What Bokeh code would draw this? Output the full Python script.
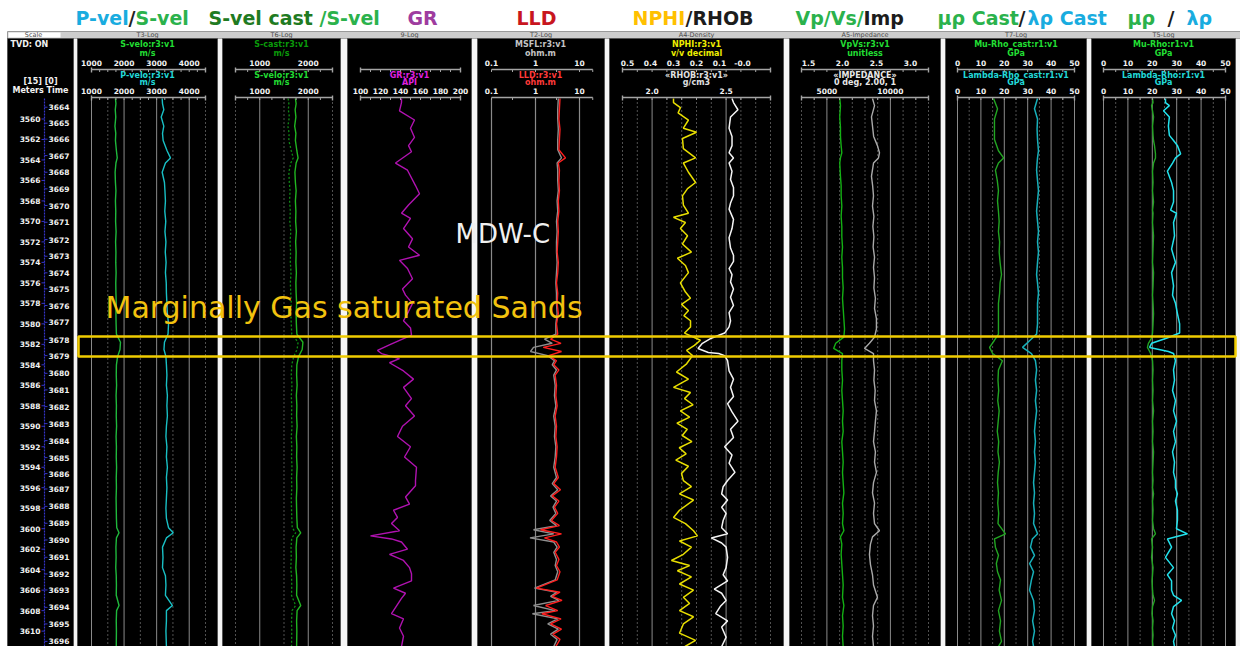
from bokeh.plotting import figure
from bokeh.models import Range1d, LogScale, CoordinateMapping
from bokeh.core.properties import value
from bokeh.embed import file_html
from bokeh.resources import INLINE

# ---------------------------------------------------------------- data
DEPTH_TOP, DEPTH_BOT = 3558.0, 3611.5          # measured depth window (m)

meter_marks = list(range(3560, 3612, 2))
time_marks = list(range(3664, 3697))
time_mark_depth = [3558.85, 3560.41, 3561.97, 3563.57, 3565.20, 3566.82, 3568.45,
                   3570.08, 3571.77, 3573.40, 3575.02, 3576.58, 3578.21, 3579.85,
                   3581.54, 3583.10, 3584.83, 3586.45, 3588.08, 3589.74, 3591.40,
                   3593.06, 3594.62, 3596.12, 3597.82, 3599.47, 3601.10, 3602.79,
                   3604.42, 3605.98, 3607.68, 3609.30, 3611.00]

# velocities (m/s)
vel_depth = [3558.0, 3558.5, 3559.1, 3559.8, 3560.7, 3561.4, 3562.1, 3563.1, 3563.8, 3564.3,
             3565.2, 3566.2, 3567, 3568, 3569, 3570, 3571, 3572, 3573, 3574, 3575, 3576,
             3577, 3578, 3579, 3580, 3581, 3581.8, 3582.5, 3583.2, 3584, 3585, 3586, 3587,
             3588, 3589, 3590, 3591, 3592, 3593, 3594, 3595, 3596, 3597, 3598, 3599,
             3599.9, 3600.4, 3600.9, 3601.8, 3602.8, 3603.8, 3604.6, 3605.5, 3606.5,
             3607.5, 3608, 3609, 3610, 3611.5]
p_vel = [3170, 3180, 3220, 3140, 3220, 3180, 3200, 3320, 3425, 3270, 3170, 3240,
         3255, 3270, 3250, 3280, 3255, 3285, 3265, 3290, 3270, 3295, 3300, 3315, 3330, 3365, 3350,
         3240, 3225, 3285,
         3300, 3315, 3300, 3330, 3315, 3330, 3300, 3285, 3315, 3300, 3330, 3300, 3315, 3300, 3285, 3300,
         3365, 3510, 3300,
         3180, 3195, 3180, 3270, 3285, 3270, 3485,
         3300, 3300, 3285, 3300]
s_vel = [1735, 1750, 1730, 1745, 1720, 1745, 1735, 1765, 1790, 1750, 1725, 1735,
         1750, 1735, 1745, 1740, 1755, 1740, 1750, 1745, 1755, 1745, 1750, 1760, 1750, 1755, 1765,
         1890, 1875, 1800,
         1765, 1760, 1770, 1755, 1765, 1760, 1770, 1755, 1765, 1760, 1770, 1760, 1765, 1755, 1760, 1765,
         1775, 1845, 1765,
         1750, 1755, 1745, 1760, 1765, 1760, 1845,
         1770, 1760, 1765, 1760]
s_cast = [1585, 1600, 1590, 1610, 1580, 1605, 1600, 1650, 1690, 1640, 1600, 1610,
          1625, 1615, 1630, 1620, 1640, 1625, 1635, 1630, 1645, 1630, 1640, 1650, 1640, 1650, 1660,
          1790, 1770, 1700,
          1660, 1650, 1665, 1650, 1660, 1655, 1665, 1650, 1660, 1655, 1665, 1655, 1660, 1650, 1655, 1660,
          1670, 1740, 1660,
          1645, 1650, 1640, 1655, 1660, 1655, 1740,
          1665, 1655, 1660, 1655]

# gamma ray (API)
gr_depth = [3558.0, 3558.4, 3559.2, 3560.1, 3560.9, 3561.8, 3562.6, 3563.2, 3564.3, 3565.0,
            3566.5, 3567.3, 3568.4, 3569.2, 3569.7, 3570.7, 3571.7, 3572.5, 3573.3, 3573.8,
            3574.6, 3575.6, 3576.6, 3577.2, 3578.0, 3578.8, 3579.7, 3580.4, 3581.1, 3582.0,
            3582.6, 3582.9, 3583.4, 3583.8, 3584.6, 3585.4, 3586.2, 3587.3, 3588.0, 3589.0,
            3590.0, 3591.0, 3592.0, 3593.0, 3594.0, 3595.3, 3595.8, 3596.9, 3597.6, 3598.2,
            3598.9, 3599.5, 3600.2, 3600.7, 3601.0, 3601.3, 3602.0, 3602.5, 3603.1, 3603.8,
            3604.4, 3605.1, 3605.8, 3606.3, 3606.8, 3608.3, 3608.8, 3609.7, 3610.5, 3611.5]
gr_api = [141, 141, 139, 154, 150, 154, 148, 151, 135, 147,
          155, 159, 148, 141, 150, 143, 152, 148, 159, 139,
          147, 152, 142, 145, 152, 148, 143, 150, 151, 130,
          117, 121, 139, 129, 143, 153, 143, 151, 145, 154,
          142, 137, 150, 144, 156, 155, 155, 145, 149, 133,
          137, 131, 139, 110, 131, 141, 147, 129, 143, 149,
          151, 151, 133, 145, 141, 131, 143, 139, 143, 141]

# resistivity (ohm.m)
res_depth = [3558, 3559, 3560, 3561, 3562, 3563, 3563.8, 3564.3, 3565, 3566, 3567, 3568, 3569,
             3570, 3571, 3572, 3573, 3574, 3575, 3576, 3577, 3578, 3579, 3580, 3581,
             3581.5, 3581.9, 3582.3, 3582.7, 3583.1, 3583.6, 3584, 3584.5, 3585,
             3586, 3587, 3588, 3589, 3590, 3591, 3592, 3593, 3594, 3595,
             3595.6, 3596.2, 3596.8, 3597.3, 3597.9, 3598.5, 3599.2, 3599.7,
             3600.1, 3600.5, 3600.9, 3601.3, 3601.8, 3602.3, 3603, 3603.6, 3604.2, 3605,
             3605.8, 3606.2, 3606.6, 3607, 3607.5, 3608, 3608.3, 3608.8, 3609.3, 3609.8,
             3610.3, 3610.8, 3611.5]
lld = [3.6, 3.5, 3.4, 3.6, 3.5, 3.4, 4.8, 3.3, 3.5, 3.4, 3.5, 3.3, 3.4, 3.2, 3.3, 3.2, 3.1,
       3.3, 3.2, 3.0, 3.2, 3.1, 3.3, 3.0, 3.2,
       2.2, 3.8, 1.5, 3.9, 2.0, 3.0, 2.6, 3.4, 2.8,
       3.0, 2.9, 3.1, 2.8, 3.0, 2.9, 3.1, 3.0, 2.8, 3.3,
       2.6, 3.7, 2.4, 3.4, 2.7, 3.2, 2.3, 3.5,
       1.3, 3.9, 1.6, 3.0, 3.5, 2.8, 3.4, 3.0, 3.6, 3.1,
       1.05, 3.6, 2.4, 4.0, 1.7, 3.2, 1.4, 3.8, 2.2, 3.9, 2.5, 3.6, 2.9]
msfl = [3.3, 3.2, 3.2, 3.3, 3.2, 3.2, 3.9, 3.1, 3.2, 3.2, 3.3, 3.1, 3.2, 3.0, 3.1, 3.0, 3.0,
        3.1, 3.0, 2.9, 3.0, 3.0, 3.1, 2.9, 2.9,
        1.6, 2.4, 0.9, 0.77, 1.9, 2.7, 2.4, 3.0, 2.6,
        2.8, 2.7, 2.9, 2.6, 2.8, 2.7, 2.9, 2.8, 2.6, 3.0,
        2.4, 3.2, 2.2, 3.0, 2.5, 2.9, 2.1, 3.0,
        0.9, 2.6, 0.75, 2.6, 3.1, 2.6, 3.0, 2.8, 3.2, 2.8,
        0.95, 3.1, 2.2, 3.4, 0.9, 2.8, 0.85, 3.2, 1.9, 3.3, 2.2, 3.1, 2.6]

# neutron porosity (v/v) and bulk density (g/cm3)
nphi_depth = [3558.0, 3558.4, 3558.9, 3559.4, 3560.1, 3560.9, 3561.3, 3561.9, 3562.9, 3563.8,
              3564.3, 3565.2, 3566.2, 3566.8, 3567.5, 3568.4, 3569.2, 3569.6, 3570.1, 3570.7,
              3571.4, 3572.2, 3573.0, 3573.6, 3574.3, 3575.0, 3576.0, 3576.9, 3577.5, 3578.1,
              3578.7, 3579.2, 3579.7, 3580.3, 3580.9, 3581.6, 3582.1, 3582.6, 3583.1, 3583.9,
              3584.7, 3585.4, 3586.2, 3586.7, 3587.3, 3587.9, 3588.5, 3589.1, 3589.7, 3590.3,
              3590.9, 3591.5, 3592.1, 3592.7, 3593.3, 3593.9, 3594.6, 3595.3, 3595.9, 3596.6,
              3597.2, 3598.2, 3598.9, 3599.5, 3600.2, 3600.7, 3601.2, 3601.8, 3602.5, 3603.1,
              3603.6, 3604.1, 3604.7, 3605.4, 3606.0, 3606.7, 3607.3, 3608.0, 3608.6, 3609.3,
              3610.2, 3610.9, 3611.5]
nphi = [0.30, 0.30, 0.27, 0.28, 0.235, 0.257, 0.200, 0.261, 0.257, 0.204,
        0.257, 0.235, 0.204, 0.239, 0.261, 0.257, 0.235, 0.300, 0.248, 0.270,
        0.239, 0.261, 0.222, 0.283, 0.248, 0.235, 0.270, 0.248, 0.226, 0.265,
        0.235, 0.255, 0.226, 0.226, 0.252, 0.183, 0.209, 0.243, 0.217, 0.243,
        0.287, 0.235, 0.300, 0.226, 0.252, 0.215, 0.270, 0.230, 0.285, 0.240,
        0.262, 0.220, 0.275, 0.245, 0.290, 0.235, 0.265, 0.257, 0.222, 0.274,
        0.213, 0.274, 0.300, 0.248, 0.213, 0.196, 0.274, 0.222, 0.257, 0.309,
        0.230, 0.283, 0.222, 0.274, 0.213, 0.257, 0.230, 0.274, 0.213, 0.257,
        0.274, 0.204, 0.250]
rhob_depth = [3558.0, 3558.4, 3559.1, 3559.8, 3560.9, 3561.7, 3562.6, 3563.3, 3563.8, 3564.3,
              3565.1, 3565.9, 3566.7, 3567.5, 3568.2, 3568.8, 3569.8, 3570.7, 3571.6, 3572.6,
              3573.3, 3573.9, 3574.6, 3575.2, 3575.9, 3576.6, 3577.4, 3578.2, 3578.9, 3579.7,
              3580.3, 3580.9, 3581.4, 3581.9, 3582.4, 3582.8, 3582.9, 3583.1, 3583.6, 3584.6,
              3585.4, 3586.2, 3587.1, 3587.8, 3588.6, 3589.5, 3590.3, 3591.1, 3592.0, 3592.8,
              3593.6, 3594.5, 3595.3, 3595.9, 3596.6, 3597.2, 3597.9, 3598.5, 3599.2, 3599.9,
              3600.5, 3600.9, 3601.4, 3601.8, 3602.8, 3603.8, 3604.5, 3605.1, 3605.9, 3606.3,
              3607.0, 3607.6, 3608.3, 3609.0, 3609.6, 3610.6, 3611.5]
rhob = [2.54, 2.55, 2.58, 2.53, 2.52, 2.54, 2.54, 2.52, 2.55, 2.52,
        2.54, 2.53, 2.55, 2.55, 2.53, 2.52, 2.55, 2.54, 2.52, 2.53,
        2.55, 2.55, 2.52, 2.54, 2.53, 2.55, 2.53, 2.55, 2.52, 2.53,
        2.52, 2.49, 2.40, 2.34, 2.31, 2.38, 2.45, 2.49, 2.51, 2.52,
        2.55, 2.53, 2.55, 2.51, 2.54, 2.58, 2.53, 2.55, 2.49, 2.54,
        2.52, 2.56, 2.51, 2.48, 2.47, 2.51, 2.47, 2.50, 2.48, 2.47,
        2.51, 2.40, 2.47, 2.50, 2.51, 2.50, 2.48, 2.51, 2.42, 2.47,
        2.50, 2.46, 2.43, 2.51, 2.47, 2.50, 2.47]

# Vp/Vs (unitless) and acoustic impedance
a5_depth = [3558, 3558.7, 3559.8, 3560.8, 3561.7, 3562.6, 3563.3, 3563.8, 3564.3, 3565.6,
            3566.5, 3567.5, 3568.5, 3569.5, 3570.5, 3571.5, 3572.5, 3573.5, 3574.5, 3575.5,
            3576.5, 3577.5, 3578.5, 3579.5, 3580.5,
            3581.3, 3581.9, 3582.4, 3582.9, 3583.6,
            3584.5, 3585.5, 3586.5, 3587.5, 3588.5, 3589.5, 3590.5, 3591.5, 3592.5, 3593.5,
            3594.5, 3595.5, 3596.5, 3597.5, 3598.5, 3599.5,
            3600.2, 3600.8, 3601.5, 3602.5, 3603.5, 3604.5, 3605.5, 3606.7,
            3607.5, 3608.5, 3609.5, 3610.5, 3611.5]
vpvs = [1.96, 1.97, 1.96, 1.97, 1.97, 1.98, 1.99, 1.97, 1.96, 1.97,
        1.98, 1.98, 1.99, 1.98, 1.99, 1.99, 2.00, 1.99, 2.00, 2.00,
        2.01, 2.00, 2.01, 2.02, 2.03,
        2.02, 1.90, 1.87, 2.00, 1.99,
        1.99, 2.00, 1.99, 2.00, 2.01, 2.00, 2.01, 1.99, 2.00, 2.01,
        2.00, 2.01, 2.02, 2.00, 2.01, 2.00,
        2.02, 1.97, 1.99, 1.98, 1.99, 2.00, 2.01, 2.00,
        2.02, 2.00, 2.01, 2.00, 2.01]
impedance = [8590, 8750, 8510, 8600, 8680, 8980, 9140, 9060, 8670, 8510,
             8600, 8670, 8590, 8700, 8620, 8700, 8640, 8750, 8670, 8750,
             8700, 8820, 8750, 8900, 8900,
             8750, 8350, 7960, 8670, 8670,
             8750, 8700, 8800, 8750, 8900, 8820, 8750, 8670, 8820, 8750,
             8900, 8670, 8590, 8750, 8670, 8750,
             9140, 8590, 8430, 8350, 8430, 8590, 8670, 8980,
             8670, 8590, 8670, 8590, 8670]

# Lame products from the cast shear log (GPa)
t7_depth = [3558, 3559, 3560, 3561, 3562, 3563.1, 3563.8, 3564.3,
            3565, 3566, 3567, 3568, 3569, 3570, 3571, 3572, 3573, 3574, 3575.2,
            3576, 3577, 3578, 3579, 3580, 3581,
            3581.6, 3582.3, 3582.9, 3583.6,
            3584.5, 3585.5, 3586.5, 3587.5, 3588.5, 3589.5, 3590.5, 3591.5, 3592.5, 3593.5,
            3594.5, 3595.5, 3596.5, 3597.5, 3598.5, 3599.5,
            3600.5, 3601.0, 3601.8, 3602.6, 3603.4, 3604.2, 3605.0,
            3606, 3607, 3608, 3609, 3610, 3611, 3611.5]
mu_rho_cast = [15.4, 17.1, 15.8, 15.8, 15.8, 17.5, 19.7, 17.5,
               16.2, 17.0, 17.5, 17.1, 17.5, 17.8, 17.5, 18.0, 17.8, 18.2, 18.8,
               18.2, 18.0, 17.5, 17.5, 17.5, 17.5,
               15.8, 13.7, 15.0, 19.2,
               17.5, 17.3, 17.6, 17.2, 17.8, 17.4, 17.0, 17.6, 17.3, 17.9,
               17.4, 17.1, 17.5, 17.2, 17.6, 17.3,
               20.5, 15.8, 16.2, 17.5, 16.6, 17.1, 18.4,
               17.8, 18.8, 17.5, 18.4, 17.9, 18.8, 17.5]
lambda_rho_cast = [34.2, 32.9, 34.2, 34.0, 34.2, 34.6, 34.2, 34.0,
                   33.8, 34.2, 34.6, 34.2, 33.8, 34.2, 34.6, 34.2, 34.6, 34.2, 33.8,
                   34.2, 34.6, 34.2, 34.2, 34.2, 33.8,
                   31.0, 27.8, 31.6, 33.3,
                   33.8, 33.3, 33.8, 33.3, 33.8, 33.3, 32.9, 33.3, 32.9, 33.3,
                   32.9, 32.5, 32.9, 32.5, 32.9, 32.5,
                   34.2, 32.0, 31.2, 32.9, 30.8, 32.5, 31.6,
                   30.8, 32.5, 32.9, 32.1, 32.9, 32.1, 32.5]

# Lame products from the measured shear log (GPa)
t5_depth = [3558.0, 3558.4, 3558.7, 3559.2, 3559.8, 3560.7, 3561.6, 3562.1, 3562.6, 3563.4,
            3563.8, 3564.3, 3565.1, 3566.2, 3567.0, 3568.1, 3568.9, 3569.2, 3570.1, 3571.4,
            3572.7, 3574.0, 3575.0, 3576.3, 3577.2, 3578.0, 3579.0, 3580.0, 3580.9, 3581.4,
            3581.9, 3582.3, 3582.7, 3582.9, 3583.6, 3584.5, 3585.5, 3586.5, 3587.5, 3588.5,
            3589.5, 3590.5, 3591.5, 3592.5, 3593.5, 3594.5, 3595.3, 3596.0, 3596.6, 3597.3,
            3598.2, 3599.2, 3600.0, 3600.5, 3601.0, 3601.8, 3602.8, 3603.8, 3604.5, 3605.1,
            3606.0, 3606.5, 3607.0, 3607.6, 3608.3, 3609.0, 3609.7, 3610.4, 3611.0, 3611.5]
mu_rho = [20.1, 20.3, 19.7, 20.1, 20.5, 20.1, 20.3, 20.5, 20.9, 21.3,
          21.3, 20.5, 20.1, 20.3, 20.1, 20.5, 20.1, 20.3, 20.1, 20.5,
          20.3, 20.1, 20.5, 20.3, 20.1, 20.3, 20.5, 20.3, 20.1, 19.7,
          18.4, 18.0, 18.9, 19.3, 20.1, 20.3, 20.1, 20.3, 20.1, 20.5,
          20.1, 20.3, 20.1, 20.5, 20.3, 20.1, 20.3, 20.1, 20.5, 20.1,
          20.3, 20.1, 20.5, 21.3, 19.7, 20.1, 19.7, 20.3, 20.1, 19.9,
          20.1, 20.3, 20.9, 20.1, 19.9, 20.3, 20.1, 20.3, 20.1, 20.3]
lambda_rho = [25.4, 25.4, 27.0, 24.6, 27.0, 26.6, 27.0, 28.7, 30.3, 31.6,
              29.5, 28.3, 26.2, 27.9, 28.7, 28.7, 27.5, 29.9, 28.7, 29.1,
              27.9, 29.5, 27.9, 28.7, 28.3, 29.5, 30.3, 31.2, 31.2, 25.8,
              19.7, 18.9, 26.6, 28.7, 29.5, 28.7, 29.1, 28.3, 29.5, 28.7,
              29.9, 28.7, 29.5, 28.3, 29.1, 28.7, 29.5, 29.5, 30.3, 29.5,
              30.3, 30.3, 29.9, 34.4, 26.2, 27.9, 25.4, 28.7, 26.2, 27.9,
              27.9, 28.7, 32.0, 28.7, 27.9, 29.1, 28.3, 29.5, 28.7, 29.1]

# interpreted zone
zone_top, zone_base = 3581.24, 3583.2

# ---------------------------------------------------------------- canvas
W, H = 1240, 646
Y_STRIP0, Y_STRIP1 = 31, 38
Y_DATA0, Y_DATA1 = 98, 646
FONT = value("DejaVu Sans")

p = figure(width=W, height=H, x_range=Range1d(0, W), y_range=Range1d(H, 0),
           x_axis_type=None, y_axis_type=None, toolbar_location=None,
           output_backend="svg", min_border=0)
p.outline_line_color = None
p.background_fill_color = "white"
p.border_fill_color = "white"

DEPTH = Range1d(DEPTH_TOP, DEPTH_BOT)
DATA_PX = Range1d(Y_DATA0, Y_DATA1)
LOG_OK = "x_scale" in CoordinateMapping.properties()


def txt(target, x, y, s, color, size, align="center", style="bold", baseline="middle"):
    return target.text(x=x if isinstance(x, list) else [x],
                       y=y if isinstance(y, list) else [y],
                       text=s if isinstance(s, list) else [s],
                       text_color=color, text_font=FONT, text_font_size=f"{size}px",
                       text_font_style=style, text_align=align, text_baseline=baseline)


def axes_pair(src, px):
    """Sub-coordinate systems of one track: depth body and header strip."""
    xs, xt = Range1d(*src), Range1d(*px)
    body = p.subplot(x_source=xs, y_source=DEPTH, x_target=xt, y_target=DATA_PX)
    head = p.subplot(x_source=xs, y_source=p.y_range, x_target=xt, y_target=p.y_range)
    return body, head


# panels (pixel frame of each track)
panels = [("Scale", 7, 73), ("T3-Log", 77, 217), ("T6-Log", 222, 340), ("9-Log", 347, 471),
          ("T2-Log", 477, 604), ("A4-Density", 609, 783), ("A5-Impedance", 789, 940),
          ("T7-Log", 945, 1086), ("T5-Log", 1091, 1235)]

# title strip and separators
p.quad(left=[7], right=[1240], top=[Y_STRIP0], bottom=[Y_STRIP1],
       fill_color="#cdcdcd", line_color="#9a9a9a", line_width=1)
seps = [(73, 77), (217, 222), (340, 347), (471, 477), (604, 609),
        (783, 789), (940, 945), (1086, 1091), (1235, 1240)]
p.quad(left=[a for a, b in seps], right=[b for a, b in seps],
       top=[Y_STRIP1] * len(seps), bottom=[Y_DATA1] * len(seps),
       fill_color="#f5f5f5", line_color="#a9a9a9", line_width=1)
p.quad(left=[x0 for _, x0, _ in panels], right=[x1 for _, _, x1 in panels],
       top=[Y_STRIP1] * len(panels), bottom=[Y_DATA1] * len(panels),
       fill_color="black", line_color="#555555", line_width=1)
p.quad(left=[8], right=[60], top=[Y_STRIP0 + 1], bottom=[Y_STRIP1 - 1],
       fill_color="white", line_color=None)
for name, x0, x1 in panels:
    txt(p, (x0 + x1) / 2 if name != "Scale" else 33, 34.6, name, "#4a4a4a", 6.5, style="normal")

# ---------------------------------------------------------------- chart title row
title_parts = [("P-vel", 75, "#19acdf"), ("/", 128, "#222222"), ("S-vel", 135, "#2bb24c"),
               ("S-vel cast", 208, "#1f7b22"), ("/S-vel", 319, "#2bb24c"),
               ("GR", 407, "#9e3c9f"), ("LLD", 516, "#c8161e"),
               ("NPHI", 632, "#ffc000"), ("/RHOB", 685, "#1c1c1c"),
               ("Vp/Vs/", 795, "#2bb24c"), ("Imp", 863, "#1c1c1c"),
               ("\u03bc\u03c1 Cast", 937, "#2bb24c"), ("/", 1018, "#1c1c1c"),
               ("\u03bb\u03c1 Cast", 1027, "#19acdf"),
               ("\u03bc\u03c1", 1127, "#2bb24c"), ("/", 1167, "#1c1c1c"),
               ("\u03bb\u03c1", 1186, "#19acdf")]
for s, x, c in title_parts:
    txt(p, x, 17, s, c, 19, align="left")

# ---------------------------------------------------------------- header rows
Y_N1, Y_U1, Y_L1, Y_B1 = 44, 53, 62, 69
Y_N2, Y_U2, Y_L2, Y_B2 = 75, 82, 90.5, 97
BAR = "#a4a4a4"
WHITE = "#f2f2f2"


def header_text(cx, name1, unit1, c1, name2, unit2, c2):
    if name1:
        txt(p, cx, Y_N1, name1, c1, 8)
        txt(p, cx, Y_U1, unit1, c1, 8)
    txt(p, cx, Y_N2, name2, c2, 8)
    txt(p, cx, Y_U2, unit2, c2, 8)


def scale_bar(head, lo, hi, ticks, y):
    head.segment(x0=[lo], x1=[hi], y0=[y], y1=[y], line_color=BAR, line_width=1.6)
    head.segment(x0=ticks, x1=ticks, y0=[y] * len(ticks), y1=[y + 2.5] * len(ticks),
                 line_color=BAR, line_width=1)
    head.segment(x0=[lo, hi], x1=[lo, hi], y0=[y - 2, y - 2], y1=[y + 3, y + 3],
                 line_color=BAR, line_width=1.4)


def scale_labels(head, vals, labels, y):
    txt(head, list(vals), [y] * len(vals), list(labels), WHITE, 7.5)


def grid(body, solid, dotted):
    if solid:
        body.segment(x0=solid, x1=solid, y0=[DEPTH_TOP] * len(solid), y1=[DEPTH_BOT] * len(solid),
                     line_color="#8a8a8a", line_width=1)
    if dotted:
        body.segment(x0=dotted, x1=dotted, y0=[DEPTH_TOP] * len(dotted),
                     y1=[DEPTH_BOT] * len(dotted), line_color="#a0a0a0", line_width=1,
                     line_dash="1 3")


# --- scale column
txt(p, 10, Y_N1, "TVD: ON", WHITE, 8, align="left")
txt(p, 40, 81, "[15] [0]", WHITE, 8)
txt(p, 40, 90, "Meters Time", WHITE, 8)
depth_col = p.subplot(x_source=p.x_range, y_source=DEPTH, x_target=p.x_range, y_target=DATA_PX)
p.segment(x0=[44], x1=[44], y0=[Y_DATA0], y1=[Y_DATA1], line_color="#3434c8",
          line_width=1.2, line_dash="2 1")
depth_col.segment(x0=[41] * len(meter_marks), x1=[44] * len(meter_marks),
                  y0=meter_marks, y1=meter_marks, line_color="#3434c8", line_width=1)
depth_col.segment(x0=[44] * len(time_mark_depth), x1=[47] * len(time_mark_depth),
                  y0=time_mark_depth, y1=time_mark_depth, line_color="#3434c8", line_width=1)
txt(depth_col, [40] * len(meter_marks), meter_marks, [str(m) for m in meter_marks],
    WHITE, 7.5, align="right")
txt(depth_col, [48] * len(time_marks), time_mark_depth, [str(t) for t in time_marks],
    WHITE, 7.5, align="left")

# --- T3: P-vel / S-vel
t3_body, t3_head = axes_pair((1000, 4500), (91, 205))
grid(t3_body, [1000, 2000, 3000, 4000], [1500, 2500, 3500, 4500])
t3_body.line(s_vel, vel_depth, line_color="#1fb83c", line_width=1.4)
t3_body.line(p_vel, vel_depth, line_color="#19bfc4", line_width=1.4)
header_text(147, "S-velo:r3:v1", "m/s", "#22dd33", "P-velo:r3:v1", "m/s", "#22d8d8")
for yb, yl in ((Y_B1, Y_L1), (Y_B2, Y_L2)):
    scale_bar(t3_head, 1000, 4500, list(range(1000, 4501, 250)), yb)
    scale_labels(t3_head, [1000, 2000, 3000, 4000], ["1000", "2000", "3000", "4000"], yl)

# --- T6: S-vel cast / S-vel
t6_body, t6_head = axes_pair((500, 2500), (235, 332))
grid(t6_body, [1000, 2000], [500, 1500, 2500])
t6_body.line(s_cast, vel_depth, line_color="#0e8a14", line_width=1.3, line_dash="2 2")
t6_body.line(s_vel, vel_depth, line_color="#21b521", line_width=1.4)
header_text(281, "S-cast:r3:v1", "m/s", "#0a9a0a", "S-velo:r3:v1", "m/s", "#22dd33")
for yb, yl in ((Y_B1, Y_L1), (Y_B2, Y_L2)):
    scale_bar(t6_head, 500, 2500, list(range(500, 2501, 250)), yb)
    scale_labels(t6_head, [1000, 2000], ["1000", "2000"], yl)

# --- 9-Log: GR
gr_body, gr_head = axes_pair((100, 200), (360, 460))
gr_body.line(gr_api, gr_depth, line_color="#b012b0", line_width=1.4)
header_text(409, None, None, None, "GR:r3:v1", "API", "#e020e0")
scale_bar(gr_head, 100, 200, list(range(100, 201, 10)), Y_B1)
scale_bar(gr_head, 100, 200, list(range(100, 201, 10)), Y_B2)
scale_labels(gr_head, [100, 120, 140, 160, 180, 200],
             ["100", "120", "140", "160", "180", "200"], Y_L2)

# --- T2: MSFL / LLD (logarithmic)
if LOG_OK:
    t2_body, t2_head = axes_pair((0.1, 10), (491, 579))
    fx = lambda v: list(v)
else:
    import math
    t2_body, t2_head = axes_pair((-1, 1), (491, 579))
    fx = lambda v: [math.log10(a) for a in v]
t2_renderers = [
    t2_body.segment(x0=fx([0.1, 1, 10]), x1=fx([0.1, 1, 10]), y0=[DEPTH_TOP] * 3,
                    y1=[DEPTH_BOT] * 3, line_color="#8a8a8a", line_width=1.2),
    t2_body.line(fx(msfl), res_depth, line_color="#8f8f8f", line_width=1.4),
    t2_body.line(fx(lld), res_depth, line_color="#ff1f1f", line_width=1.4),
]
header_text(540, "MSFL:r3:v1", "ohm.m", "#c4c4c4", "LLD:r3:v1", "ohm.m", "#ff3a3a")
for yb, yl in ((Y_B1, Y_L1), (Y_B2, Y_L2)):
    t2_renderers += [
        t2_head.segment(x0=fx([0.1]), x1=fx([20]), y0=[yb], y1=[yb], line_color=BAR, line_width=1.6),
        t2_head.segment(x0=fx([0.1, 0.3, 1, 3, 10, 20]), x1=fx([0.1, 0.3, 1, 3, 10, 20]),
                        y0=[yb] * 6, y1=[yb + 2.5] * 6, line_color=BAR, line_width=1),
        txt(t2_head, fx([0.1, 1, 10]), [yl] * 3, ["0.1", "1", "10"], WHITE, 7.5),
    ]
if LOG_OK:
    for r in t2_renderers:
        r.coordinates.x_scale = LogScale()

# --- A4: NPHI / RHOB
rho_body, rho_head = axes_pair((1.8, 2.8), (622, 770))
phi_body, phi_head = axes_pair((0.5, 0.0), (627, 742))
rho_grid = [round(1.8 + 0.1 * i, 1) for i in range(11)]
grid(rho_body, [2.0, 2.5], [g for g in rho_grid if g not in (2.0, 2.5)])
phi_body.line(nphi, nphi_depth, line_color="#e8de00", line_width=1.5)
rho_body.line(rhob, rhob_depth, line_color="#f4f4f4", line_width=1.5)
header_text(696, "NPHI:r3:v1", "v/v decimal", "#eeee00", "\u00abRHOB:r3:v1\u00bb", "g/cm3", "#e0e0e0")
scale_bar(rho_head, 1.8, 2.8, rho_grid, Y_B1)
scale_bar(rho_head, 1.8, 2.8, rho_grid, Y_B2)
scale_labels(phi_head, [0.5, 0.4, 0.3, 0.2, 0.1, 0.0], ["0.5", "0.4", "0.3", "0.2", "0.1", "-0.0"], Y_L1)
scale_labels(rho_head, [2.0, 2.5], ["2.0", "2.5"], Y_L2)

# --- A5: Vp/Vs / impedance
imp_body, imp_head = axes_pair((3000, 13000), (801, 928))
vr_body, vr_head = axes_pair((1.5, 3.0), (808, 910))
imp_grid = list(range(3000, 13001, 1000))
grid(imp_body, [5000, 10000], [g for g in imp_grid if g not in (5000, 10000)])
vr_body.line(vpvs, a5_depth, line_color="#14b014", line_width=1.4)
imp_body.line(impedance, a5_depth, line_color="#a9a9a9", line_width=1.4)
header_text(864.5, "VpVs:r3:v1", "unitless", "#22dd33", "\u00abIMPEDANCE\u00bb", "0 deg, 2.00, 1", "#e8e8e8")
scale_bar(imp_head, 3000, 13000, imp_grid, Y_B1)
scale_bar(imp_head, 3000, 13000, imp_grid, Y_B2)
scale_labels(vr_head, [1.5, 2.0, 2.5, 3.0], ["1.5", "2.0", "2.5", "3.0"], Y_L1)
scale_labels(imp_head, [5000, 10000], ["5000", "10000"], Y_L2)

# --- T7 and T5: Mu-Rho / Lambda-Rho
gpa_grid = list(range(0, 51, 5))
gpa_labels = ["0", "10", "20", "30", "40", "50"]
for px, cx, mu, lam, depth, names, lam_color in (
        ((957, 1074), 1015.5, mu_rho_cast, lambda_rho_cast, t7_depth,
         ("Mu-Rho_cast:r1:v1", "Lambda-Rho_cast:r1:v1"), "#17b0ba"),
        ((1103, 1225), 1163, mu_rho, lambda_rho, t5_depth,
         ("Mu-Rho:r1:v1", "Lambda-Rho:r1:v1"), "#22e2ec")):
    body, head = axes_pair((0, 50), px)
    grid(body, [g for g in gpa_grid if g % 10 == 0], [g for g in gpa_grid if g % 10])
    body.line(mu, depth, line_color="#22a522", line_width=1.4)
    body.line(lam, depth, line_color=lam_color, line_width=1.5)
    header_text(cx, names[0], "GPa", "#22dd33", names[1], "GPa", "#22d8d8")
    for yb, yl in ((Y_B1, Y_L1), (Y_B2, Y_L2)):
        scale_bar(head, 0, 50, gpa_grid, yb)
        scale_labels(head, [0, 10, 20, 30, 40, 50], gpa_labels, yl)

# ---------------------------------------------------------------- interpretation
depth_col.quad(left=[78], right=[1235], top=[zone_top], bottom=[zone_base],
               fill_color=None, line_color="#f0cc00", line_width=2.5)
txt(depth_col, 105, 3578.45, "Marginally Gas saturated Sands", "#f2c20e", 30,
    align="left", style="normal")
txt(depth_col, 455, 3571.2, "MDW-C", "#f0f0f0", 26, align="left", style="normal")

open("out.html", "w").write(file_html(p, INLINE))
